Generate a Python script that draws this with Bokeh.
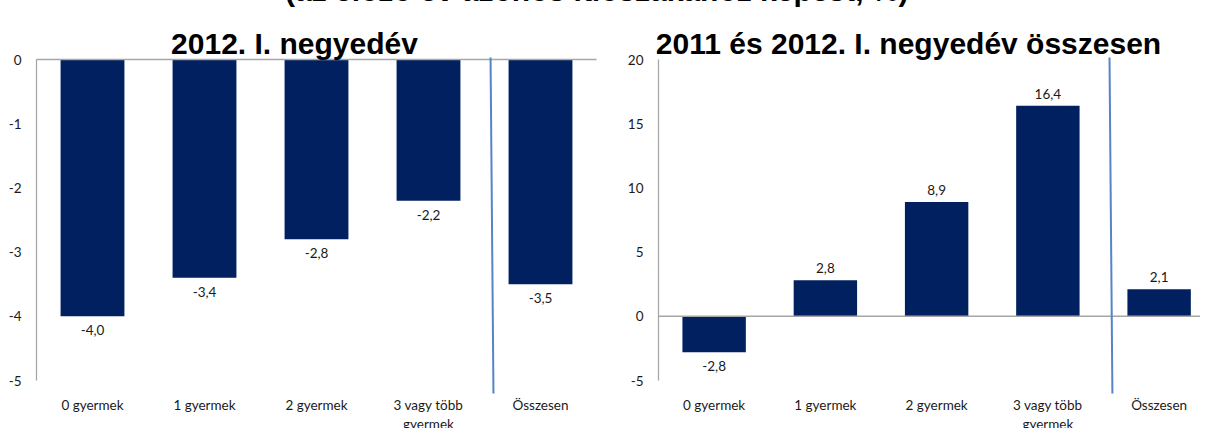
from bokeh.plotting import figure
from bokeh.models import Range1d, FixedTicker, Div, Label, ColumnDataSource
from bokeh.layouts import row, column
from bokeh.embed import file_html
from bokeh.resources import INLINE
from bokeh.core.properties import value

# ---------------- data ----------------
categories = ["0 gyermek", "1 gyermek", "2 gyermek", "3 vagy több\ngyermek", "Összesen"]
values_q1_2012 = [-4.0, -3.4, -2.8, -2.2, -3.5]
values_2011_2012 = [-2.8, 2.8, 8.9, 16.4, 2.1]
yticks_left = [-5, -4, -3, -2, -1, 0]
ytick_labels_left = ["-5", "-4", "-3", "-2", "-1", "0"]
yticks_right = [-5, 0, 5, 10, 15, 20]
ytick_labels_right = ["-5", "0", "5", "10", "15", "20"]
main_title = "(az előző év azonos időszakához képest, %)"
left_title = "2012. I. negyedév"
right_title = "2011 és 2012. I. negyedév összesen"

# ---------------- style ----------------
BAR = "#002060"
AXIS = "#A6A6A6"
SEP = "#5585C5"
TXT = "#1a1a1a"
SMALL_FONT = "Lato"
SMALL_SIZE = "13.5px"
TITLE_FONT = "Liberation Sans"
TITLE_SIZE = "30px"

FIG_H = 420
SEP_TOP_PX = 49
TICK_TOP_PX = 51
TICK_BOT_PX = 372
TITLE_BASE_PX = 35


def fmt(v):
    return f"{v:.1f}".replace(".", ",")


def make_chart(vals, ticks, tick_labels, title, fig_w, axis_px, cat_px, title_cx_px):
    n = len(categories)
    ppu = (TICK_BOT_PX - TICK_TOP_PX) / (max(ticks) - min(ticks))
    y_top = max(ticks) + TICK_TOP_PX / ppu
    y_bot = min(ticks) - (FIG_H - TICK_BOT_PX) / ppu
    x_start = -2 / cat_px
    x_end = (fig_w - axis_px) / cat_px

    p = figure(width=fig_w, height=FIG_H,
               x_range=Range1d(x_start, x_end), y_range=Range1d(y_bot, y_top),
               x_axis_type=None, toolbar_location=None, output_backend="svg",
               min_border_left=axis_px - 2, min_border_right=0,
               min_border_top=0, min_border_bottom=0,
               outline_line_color=None, background_fill_color="white",
               border_fill_color="white")
    p.ygrid.grid_line_color = None
    ax = p.yaxis[0]
    ax.ticker = FixedTicker(ticks=ticks)
    ax.major_label_overrides = {t: s for t, s in zip(ticks, tick_labels)}
    ax.axis_line_color = None
    ax.major_tick_line_color = None
    ax.minor_tick_line_color = None
    ax.major_tick_out = 0
    ax.major_tick_in = 0
    ax.minor_tick_out = 0
    ax.major_label_standoff = 13
    ax.major_label_text_font = SMALL_FONT
    ax.major_label_text_font_size = SMALL_SIZE
    ax.major_label_text_color = TXT

    centers = [i + 0.5 for i in range(n)]
    src = ColumnDataSource(dict(
        x=centers, v=vals, lbl=[fmt(v) for v in vals],
        off=[14 if v < 0 else -12 for v in vals],
    ))
    p.vbar(x="x", top="v", bottom=0, width=0.57, source=src,
           fill_color=BAR, line_color=None)

    # value axis line and zero line
    p.segment(x0=[0], y0=[min(ticks)], x1=[0], y1=[max(ticks)],
              line_color=AXIS, line_width=1.25)
    p.segment(x0=[0], y0=[0], x1=[n], y1=[0], line_color=AXIS, line_width=1.5)

    # separator before "Összesen"
    p.segment(x0=[n - 1 + 0.054], y0=[max(ticks) + (TICK_TOP_PX - SEP_TOP_PX) / ppu],
              x1=[n - 1 + 0.08], y1=[min(ticks) - 13 / ppu],
              line_color=SEP, line_width=2)

    # value labels
    p.text(x="x", y="v", text="lbl", y_offset="off", source=src,
           text_align="center", text_baseline="middle",
           text_font=value(SMALL_FONT), text_font_size=SMALL_SIZE, text_color=TXT)

    # category labels
    p.text(x=centers, y=[min(ticks)] * n, text=categories, y_offset=16,
           text_align="center", text_baseline="top", text_line_height=1.2,
           text_font=value(SMALL_FONT), text_font_size=SMALL_SIZE, text_color=TXT)

    p.add_layout(Label(x=(title_cx_px - axis_px) / cat_px,
                       y=max(ticks) + (TICK_TOP_PX - TITLE_BASE_PX) / ppu,
                       text=title, text_align="center", text_baseline="alphabetic",
                       text_font=TITLE_FONT, text_font_style="bold",
                       text_font_size=TITLE_SIZE, text_color="black"))
    return p


p1 = make_chart(values_q1_2012, yticks_left, ytick_labels_left, left_title,
                fig_w=612, axis_px=44, cat_px=112, title_cx_px=302)
p2 = make_chart(values_2011_2012, yticks_right, ytick_labels_right, right_title,
                fig_w=596, axis_px=54, cat_px=111.25, title_cx_px=304)

head = Div(text=(
    '<div style="position:relative; top:-16px; left:293px; '
    "font-family:'Liberation Sans'; font-weight:bold; font-size:30px; "
    'line-height:30px; white-space:nowrap; color:black;">'
    + main_title + "</div>"), width=1208, height=16, margin=0)

layout = column(head, row(p1, p2), margin=(-8, -8, -8, -8))

with open("out.html", "w") as f:
    f.write(file_html(layout, INLINE))
